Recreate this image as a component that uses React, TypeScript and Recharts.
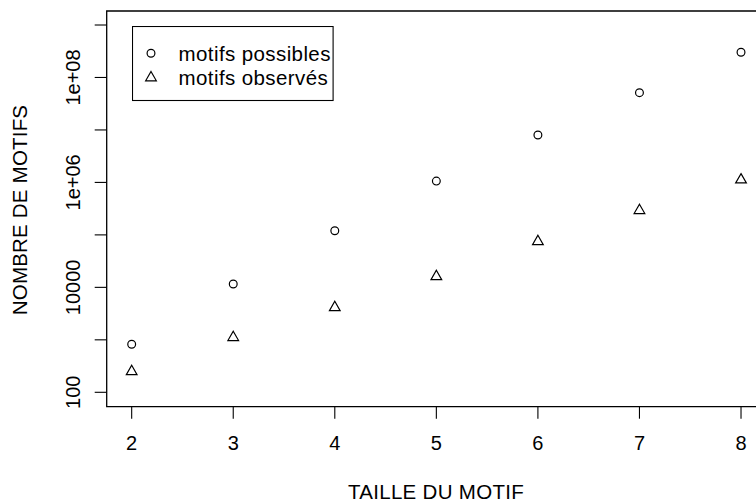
import { ScatterChart, Scatter, XAxis, YAxis, ReferenceArea, Legend } from "recharts";

const tailles = [2, 3, 4, 5, 6, 7, 8];
const motifsPossibles = [822, 11600, 120000, 1060000, 8000000, 51300000, 302000000];
const motifsObserves = [249, 1110, 4130, 16100, 74800, 292000, 1120000];

const xTicks = [2, 3, 4, 5, 6, 7, 8];
const yTicks = [1e2, 1e3, 1e4, 1e5, 1e6, 1e7, 1e8, 1e9];
const yLabels: Record<number, string> = { 100: "100", 10000: "10000", 1000000: "1e+06", 100000000: "1e+08" };

const possibles = tailles.map((t, i) => ({ taille: t, nombre: motifsPossibles[i] }));
const observes = tailles.map((t, i) => ({ taille: t, nombre: motifsObserves[i] }));

const xDomain = [1.754, 8.246];
const yDomain = [53.15, 1.849e9];
const font = "'Liberation Sans', Arial, Helvetica, sans-serif";

const Circle = (props: any) => (
  <circle cx={props.cx} cy={props.cy} r={3.9} fill="none" stroke="#000" strokeWidth={1.2} />
);

const Triangle = (props: any) => {
  const { cx, cy } = props;
  const pts = `${cx},${cy - 6.2} ${cx + 5.35},${cy + 3.1} ${cx - 5.35},${cy + 3.1}`;
  return <polygon points={pts} fill="none" stroke="#000" strokeWidth={1.2} />;
};

const XTick = ({ x, y, payload }: any) => (
  <text x={x} y={y + 31.6} textAnchor="middle" fontSize={20} fill="#000" fontFamily={font}>
    {payload.value}
  </text>
);

const YTick = ({ x, y, payload }: any) => {
  const label = yLabels[payload.value];
  if (!label) return <g />;
  return (
    <text transform={`translate(${x - 14.7},${y}) rotate(-90)`} textAnchor="middle" fontSize={20} fill="#000" fontFamily={font}>
      {label}
    </text>
  );
};

const LegendBox = () => (
  <svg width={202} height={76} style={{ display: "block" }}>
    <rect x={0.5} y={0.5} width={200.6} height={74} fill="none" stroke="#000" strokeWidth={1.1} />
    <Circle cx={19} cy={27.3} />
    <Triangle cx={19} cy={51.7} />
    <text x={46.6} y={35} fontSize={20.5} letterSpacing={0.4} fontFamily={font} fill="#000">motifs possibles</text>
    <text x={46.6} y={59} fontSize={20.5} letterSpacing={0.4} fontFamily={font} fill="#000">motifs observés</text>
  </svg>
);

export default function App() {
  return (
    <div style={{ position: "absolute", left: 0, top: 0, width: 756, height: 501, overflow: "hidden", background: "#fff" }}>
      <ScatterChart width={780} height={501} margin={{ top: 11, right: 14, bottom: 0, left: 0 }} style={{ fontFamily: font }}>
        <XAxis
          dataKey="taille"
          type="number"
          domain={xDomain}
          ticks={xTicks}
          interval={0}
          allowDataOverflow
          height={94.3}
          tickSize={12}
          tickMargin={0}
          axisLine={false}
          tickLine={{ stroke: "#000", strokeWidth: 1.1 }}
          tick={<XTick />}
          label={{
            content: () => (
              <text x={436} y={498.5} textAnchor="middle" fontSize={20.5} letterSpacing={0.3} fill="#000" fontFamily={font}>
                TAILLE DU MOTIF
              </text>
            ),
          }}
        />
        <YAxis
          dataKey="nombre"
          type="number"
          scale="log"
          domain={yDomain}
          ticks={yTicks}
          interval={0}
          allowDataOverflow
          width={106.7}
          tickSize={12}
          tickMargin={0}
          axisLine={false}
          tickLine={{ stroke: "#000", strokeWidth: 1.1 }}
          tick={<YTick />}
          label={{
            content: () => (
              <text transform="translate(27.3,210) rotate(-90)" textAnchor="middle" fontSize={20.5} letterSpacing={0.2} fill="#000" fontFamily={font}>
                NOMBRE DE MOTIFS
              </text>
            ),
          }}
        />
        <ReferenceArea
          x1={xDomain[0]}
          x2={xDomain[1]}
          y1={yDomain[0]}
          y2={yDomain[1]}
          fill="none"
          fillOpacity={0}
          stroke="#000"
          strokeWidth={1.3}
          ifOverflow="visible"
        />
        <Legend
          verticalAlign="middle"
          content={() => <LegendBox />}
          wrapperStyle={{ position: "absolute", left: 132, top: 25.5, width: 202, height: 76 }}
        />
        <Scatter name="motifs possibles" data={possibles} shape={<Circle />} isAnimationActive={false} />
        <Scatter name="motifs observés" data={observes} shape={<Triangle />} isAnimationActive={false} />
      </ScatterChart>
    </div>
  );
}
